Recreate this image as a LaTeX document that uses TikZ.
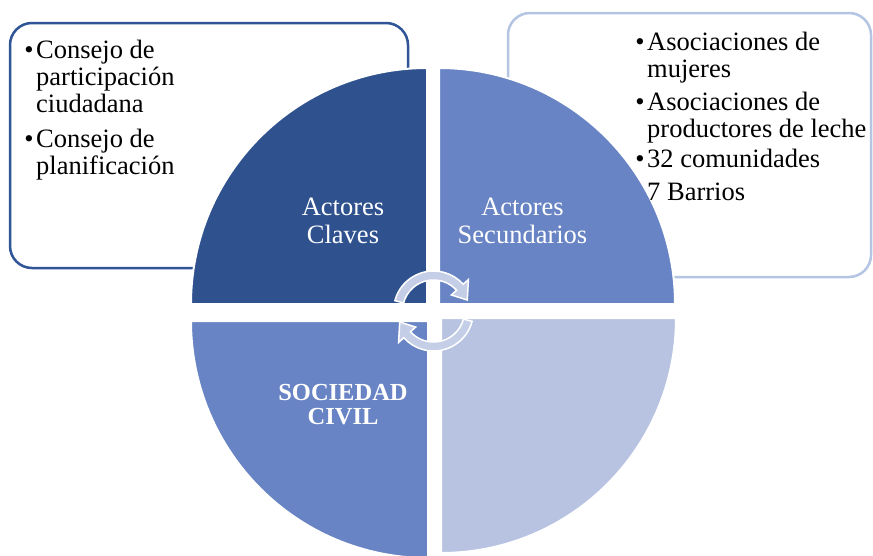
\documentclass[tikz,border=0pt]{standalone}
\usepackage{fontspec}
\setmainfont{Liberation Serif}
\definecolor{qdark}{RGB}{47,82,143}
\definecolor{qmid}{RGB}{104,132,196}
\definecolor{qlight}{RGB}{184,195,226}
\definecolor{boxdark}{RGB}{47,85,151}
\definecolor{boxlight}{RGB}{180,197,228}
\definecolor{arrowfill}{RGB}{197,206,231}
\begin{document}
\begin{tikzpicture}[x=1pt,y=1pt,
  quad/.style={draw=white,line width=2pt},
  infobox/.style={rectangle,rounded corners=22pt,line width=2.5pt,fill=white},
  qlabel/.style={text=white,align=center,inner sep=0pt,font=\fontsize{26.5}{28}\selectfont},
  item/.style={anchor=base west,align=left,inner sep=0pt,font=\fontsize{26.5}{27}\selectfont},
  cyc/.style={fill=arrowfill,draw=white,line width=1.5pt,line join=miter}
]
\clip (0,0) rectangle (873,-555);
% side boxes
\node[infobox,draw=boxdark,minimum width=398pt,minimum height=245pt] (kbox) at (209,-145.5) {};
\node[infobox,draw=boxlight,minimum width=363pt,minimum height=264pt] (sbox) at (689.5,-145) {};
% quadrants
\path[quad,fill=qdark]  (427,-304) -- (191,-304) arc[start angle=180,end angle=90,radius=236pt] -- cycle;
\path[quad,fill=qmid]   (439,-304) -- (439,-68) arc[start angle=90,end angle=0,radius=236pt] -- cycle;
\path[quad,fill=qmid]   (428,-321) -- (191,-321) arc[start angle=180,end angle=270,radius=237pt] -- cycle;
\path[quad,fill=qlight] (441,-318) -- (676,-318) arc[start angle=0,end angle=-90,radius=235pt] -- cycle;
% circular arrows
\begin{scope}[shift={(433.5,-311)}]
\path[cyc] (165:40) arc[start angle=165,end angle=42,radius=40pt] -- (42:47) -- (18:35.5) -- (42:24) -- (42:31) arc[start angle=42,end angle=165,radius=31pt] -- cycle;
\path[cyc] (345:40) arc[start angle=345,end angle=222,radius=40pt] -- (222:47) -- (198:35.5) -- (222:24) -- (222:31) arc[start angle=222,end angle=345,radius=31pt] -- cycle;
\end{scope}
% quadrant labels
\node[qlabel] (tlab) at (343,-221) {Actores\\Claves};
\node[qlabel] (trlab) at (522.5,-221) {Actores\\Secundarios};
\node[qlabel,font=\bfseries\fontsize{24.5}{24}\selectfont] (bllab) at (343,-405) {SOCIEDAD\\CIVIL};
% box items (anchored at the baseline of their last line)
\node[item] (k1) at (36,-112) {\llap{•\hspace{2.5pt}}Consejo de\\participación\\ciudadana};
\node[item] (k2) at (36,-174) {\llap{•\hspace{2.5pt}}Consejo de\\planificación};
\node[item] (s1) at (647,-77) {\llap{•\hspace{2.5pt}}Asociaciones de\\mujeres};
\node[item] (s2) at (647,-137) {\llap{•\hspace{2.5pt}}Asociaciones de\\productores de leche};
\node[item] (s3) at (647,-200) {\llap{•\hspace{2.5pt}}32 comunidades\\[6pt]7 Barrios};
\end{tikzpicture}
\end{document}
